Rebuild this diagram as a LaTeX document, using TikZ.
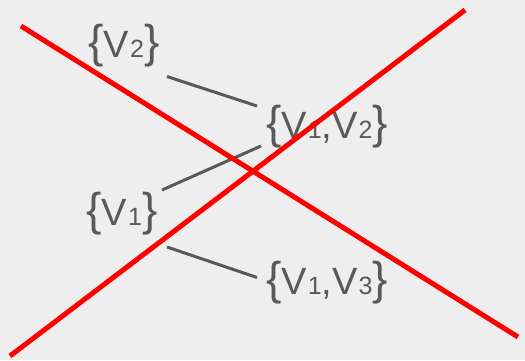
\documentclass[tikz,border=0pt]{standalone}
\usepackage{fontspec}
\setmainfont{Liberation Sans}
\usetikzlibrary{calc}
\definecolor{bggray}{HTML}{EEEEEE}
\definecolor{txtgray}{HTML}{595959}
\definecolor{cutred}{HTML}{FF0000}
\tikzset{
  setlbl/.style={text=txtgray,font=\fontsize{38}{40}\selectfont,inner sep=0pt},
  link/.style={draw=txtgray,line width=3pt},
  cut/.style={draw=cutred,line width=5pt},
}
\newcommand{\vsub}[1]{\kern1pt{\fontsize{25}{25}\selectfont #1}}
\newcommand{\lbr}{{\fontsize{46}{46}\selectfont\{}}
\newcommand{\rbr}{{\fontsize{46}{46}\selectfont\}}}

\begin{document}
\begin{tikzpicture}[x=1pt,y=-1pt]
  % background
  \fill[bggray] (0,0) rectangle (525,360);
  \useasboundingbox (0,0) rectangle (525,360);
  % set labels
  \node[setlbl] (v2)  at (124,45.5)  {\lbr V\vsub{2}\rbr};
  \node[setlbl] (v12) at (327,127)   {\lbr V\vsub{1},V\vsub{2}\rbr};
  \node[setlbl] (v1)  at (122,214)   {\lbr V\vsub{1}\rbr};
  \node[setlbl] (v13) at (327,282.5) {\lbr V\vsub{1},V\vsub{3}\rbr};
  % connectors
  \draw[link] ($(v2.center)+(43,31)$) -- ($(v12.center)+(-70,-21)$);
  \draw[link] ($(v1.center)+(40,-24)$) -- ($(v12.center)+(-66,19)$);
  \draw[link] ($(v1.center)+(45,33)$) -- ($(v13.center)+(-70,-5)$);
  % the two cuts
  \draw[cut] (21,26) -- (518,337);
  \draw[cut] (10,356) -- (465,10);
\end{tikzpicture}
\end{document}
